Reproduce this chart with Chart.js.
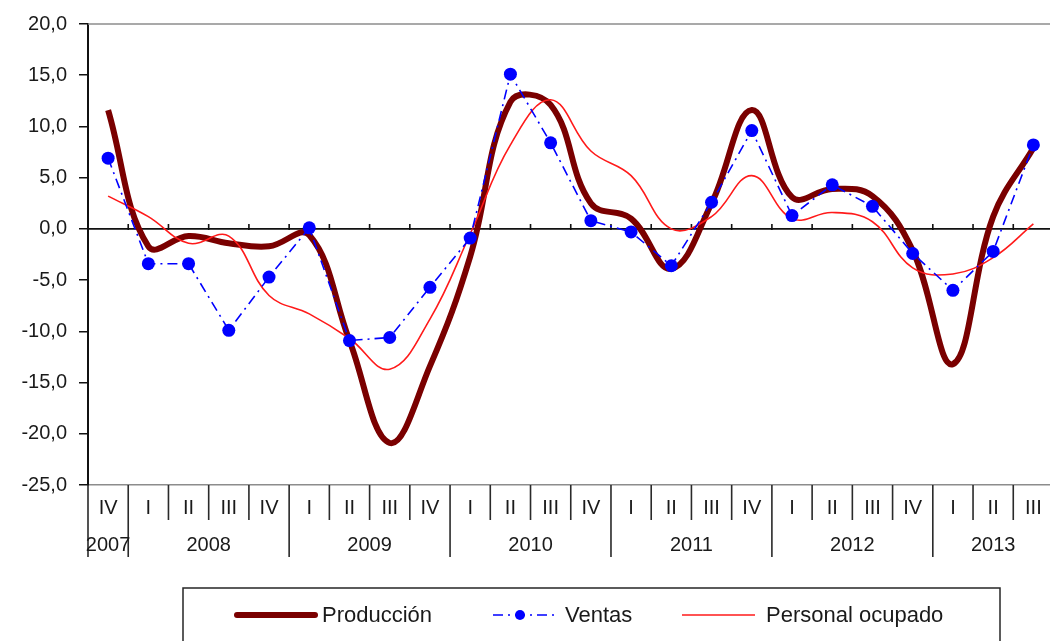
<!DOCTYPE html>
<html>
<head>
<meta charset="utf-8">
<script src="https://cdn.jsdelivr.net/npm/chart.js@4.4.1/dist/chart.umd.min.js"></script>
<style>
  html, body { margin: 0; padding: 0; background: #fff; overflow: hidden; }
  #wrap { width: 1060px; height: 641px; }
</style>
</head>
<body>
<div id="wrap"><canvas id="c" width="1060" height="641"></canvas></div>
<script>
// Quarterly year-on-year variation (%), 2007 Q4 – 2013 Q3
const quarters = ['IV','I','II','III','IV','I','II','III','IV','I','II','III','IV',
                  'I','II','III','IV','I','II','III','IV','I','II','III'];
const years = ['2007','2008','2009','2010','2011','2012','2013'];
const quartersPerYear = [1, 4, 4, 4, 4, 4, 3];

const produccion = [11.6, -1.7, -0.7, -1.4, -1.7, -0.6, -10.9, -20.9, -13.4, -2.7, 12.4, 12.1,
                    2.5, 1.0, -3.9, 2.5, 11.6, 3.1, 3.9, 3.2, -2.1, -13.2, 1.2, 7.9];
const ventas = [6.9, -3.4, -3.4, -9.9, -4.7, 0.1, -10.9, -10.6, -5.7, -0.9, 15.1, 8.4,
                0.8, -0.3, -3.6, 2.6, 9.6, 1.3, 4.3, 2.2, -2.4, -6.0, -2.2, 8.2];
const personalOcupado = [3.2, 1.2, -1.4, -0.7, -6.5, -8.3, -10.7, -13.7, -8.8, -0.5, 8.2, 12.6,
                         7.6, 5.2, 0.0, 1.2, 5.2, 1.0, 1.6, 0.7, -3.8, -4.4, -2.8, 0.5];

const FONT = '"Liberation Sans", Arial, Helvetica, sans-serif';
const TEXT = '#1a1a1a';
const MAROON = '#7a0000';
const BLUE = '#0000ff';
const RED = '#ff1a1a';
const DASH_DOT = [10, 5, 2, 5];

// Frame, zero line, category separators, year row and the boxed legend
const decorations = {
  id: 'decorations',
  beforeDatasetsDraw(chart) {
    const { ctx, chartArea: a, scales: { x, y } } = chart;
    ctx.save();
    // top border of the plot area
    ctx.strokeStyle = '#8c8c8c';
    ctx.lineWidth = 1.5;
    ctx.beginPath();
    ctx.moveTo(a.left, a.top);
    ctx.lineTo(a.right, a.top);
    ctx.stroke();
    // zero line with tick marks between categories
    const y0 = y.getPixelForValue(0);
    ctx.strokeStyle = '#111';
    ctx.lineWidth = 1.6;
    ctx.beginPath();
    ctx.moveTo(a.left, y0);
    ctx.lineTo(a.right, y0);
    for (let i = 1; i < quarters.length; i++) {
      const xb = (x.getPixelForValue(i - 1) + x.getPixelForValue(i)) / 2;
      ctx.moveTo(xb, y0 - 5);
      ctx.lineTo(xb, y0 + 1);
    }
    ctx.stroke();
    ctx.restore();
  },
  afterDraw(chart) {
    const { ctx, chartArea: a, scales: { x } } = chart;
    const n = quarters.length;
    const step = (x.getPixelForValue(1) - x.getPixelForValue(0));
    const edge = i => x.getPixelForValue(i) - step / 2;
    const yearStarts = new Set();
    let acc = 0;
    quartersPerYear.forEach(q => { yearStarts.add(acc); acc += q; });
    yearStarts.add(n);

    ctx.save();
    ctx.strokeStyle = '#2a2a2a';
    ctx.lineWidth = 1.6;
    ctx.beginPath();
    for (let i = 0; i <= n; i++) {
      const xb = i === 0 ? a.left : edge(i);
      ctx.moveTo(xb, a.bottom);
      ctx.lineTo(xb, a.bottom + (yearStarts.has(i) ? 72 : 35));
    }
    ctx.stroke();

    // year labels centred under their quarters
    ctx.fillStyle = TEXT;
    ctx.font = '20px ' + FONT;
    ctx.textAlign = 'center';
    ctx.textBaseline = 'middle';
    acc = 0;
    years.forEach((yr, k) => {
      const first = acc, last = acc + quartersPerYear[k] - 1;
      const cx = (x.getPixelForValue(first) + x.getPixelForValue(last)) / 2;
      ctx.fillText(yr, cx, a.bottom + 60);
      acc += quartersPerYear[k];
    });

    // legend box
    const ds = chart.data.datasets;
    const bx = 183, by = 588, bw = 817, bh = 70;
    ctx.strokeStyle = '#262626';
    ctx.lineWidth = 1.5;
    ctx.strokeRect(bx, by, bw, bh);
    const ly = 615;
    ctx.font = '22px ' + FONT;
    ctx.textAlign = 'left';
    ctx.fillStyle = TEXT;

    const items = [
      { ds: ds[0], x0: 237, x1: 315, tx: 322 },
      { ds: ds[1], x0: 493, x1: 555, tx: 565 },
      { ds: ds[2], x0: 682, x1: 755, tx: 766 }
    ];
    items.forEach(it => {
      ctx.save();
      ctx.strokeStyle = it.ds.borderColor;
      ctx.lineWidth = it.ds.borderWidth;
      ctx.lineCap = it.ds.borderWidth > 3 ? 'round' : 'butt';
      ctx.setLineDash(it.ds.borderDash || []);
      ctx.beginPath();
      ctx.moveTo(it.x0, ly);
      ctx.lineTo(it.x1, ly);
      ctx.stroke();
      if (it.ds.pointRadius) {
        ctx.setLineDash([]);
        ctx.fillStyle = it.ds.pointBackgroundColor;
        ctx.beginPath();
        ctx.arc((it.x0 + it.x1) / 2 - 4, ly, 5, 0, Math.PI * 2);
        ctx.fill();
      }
      ctx.restore();
      ctx.fillStyle = TEXT;
      ctx.fillText(it.ds.label, it.tx, ly + 1);
    });
    ctx.restore();
  }
};

new Chart(document.getElementById('c'), {
  type: 'line',
  data: {
    labels: quarters,
    datasets: [
      {
        label: 'Producción',
        data: produccion,
        borderColor: MAROON,
        borderWidth: 6,
        pointRadius: 0,
        tension: 0.4,
        order: 3
      },
      {
        label: 'Ventas',
        data: ventas,
        borderColor: BLUE,
        borderWidth: 1.6,
        borderDash: DASH_DOT,
        pointRadius: 6.5,
        pointBackgroundColor: BLUE,
        pointBorderWidth: 0,
        tension: 0,
        order: 1
      },
      {
        label: 'Personal ocupado',
        data: personalOcupado,
        borderColor: RED,
        borderWidth: 1.6,
        pointRadius: 0,
        tension: 0.4,
        order: 2
      }
    ]
  },
  options: {
    responsive: false,
    animation: false,
    devicePixelRatio: 1,
    layout: { padding: { top: 18, right: 5, left: 0, bottom: 0 } },
    plugins: { legend: { display: false }, tooltip: { enabled: false } },
    scales: {
      x: {
        offset: true,
        grid: { display: false, drawTicks: false },
        border: { display: true, color: '#8c8c8c', width: 1.5 },
        ticks: {
          autoSkip: false, maxRotation: 0, minRotation: 0,
          padding: 11,
          color: TEXT,
          font: { family: FONT, size: 20 }
        },
        afterFit(s) { s.height = 156; }
      },
      y: {
        min: -25, max: 20,
        grid: { display: true, drawOnChartArea: false, drawTicks: true, tickLength: 9, color: '#111', lineWidth: 1.5 },
        border: { display: true, color: '#111', width: 2 },
        ticks: {
          stepSize: 5,
          padding: 12,
          color: TEXT,
          font: { family: FONT, size: 20 },
          callback: v => v.toFixed(1).replace('.', ',')
        },
        afterFit(s) { s.width = 88; }
      }
    }
  },
  plugins: [decorations]
});
</script>
</body>
</html>
